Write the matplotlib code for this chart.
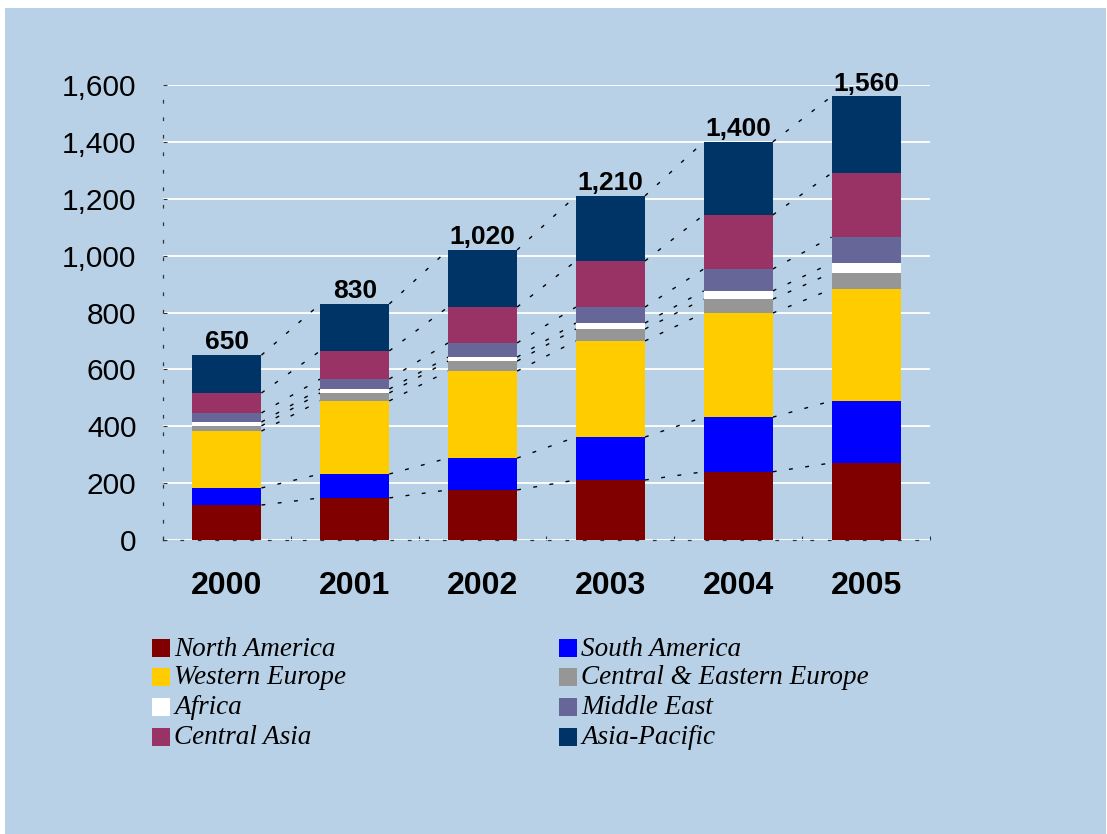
import matplotlib
matplotlib.use("Agg")
import matplotlib.pyplot as plt
import numpy as np
from matplotlib.patches import Rectangle

years = ["2000", "2001", "2002", "2003", "2004", "2005"]
regions = ["North America", "South America", "Western Europe",
           "Central & Eastern Europe", "Africa", "Middle East",
           "Central Asia", "Asia-Pacific"]
north_america = [123, 148, 176, 211, 240, 271]
south_america = [60, 84, 112, 151, 192, 218]
western_europe = [200, 257, 306, 338, 366, 393]
central_eastern_europe = [18, 28, 35, 42, 49, 57]
africa = [14, 14, 14, 21, 29, 35]
middle_east = [32, 35, 50, 56, 77, 91]
central_asia = [70, 99, 126, 162, 190, 225]
asia_pacific = [133, 165, 201, 229, 257, 270]
totals = [650, 830, 1020, 1210, 1400, 1560]
y_ticks = [0, 200, 400, 600, 800, 1000, 1200, 1400, 1600]

series = [north_america, south_america, western_europe, central_eastern_europe,
          africa, middle_east, central_asia, asia_pacific]
colors = ["#800000", "#0000FF", "#FFCC00", "#969696",
          "#FFFFFF", "#666699", "#993366", "#003366"]

BG = "#B9D1E7"
W, H = 1107, 834
fig = plt.figure(figsize=(W / 100, H / 100), dpi=100, facecolor="white")
fig.add_artist(Rectangle((5 / W, 0), (W - 6) / W, (H - 8) / H,
                         transform=fig.transFigure, facecolor=BG,
                         edgecolor="none", zorder=-10))

ax = fig.add_axes([163 / W, 294 / H, 767 / W, 455 / H])
ax.set_facecolor("none")

x = np.arange(len(years))
bar_w = 0.54
bottom = np.zeros(len(years))
cum_levels = []
for vals, col in zip(series, colors):
    vals = np.array(vals, dtype=float)
    ax.bar(x, vals, bar_w, bottom=bottom, color=col, edgecolor="none",
           zorder=3)
    bottom = bottom + vals
    cum_levels.append(bottom.copy())

# series lines joining each stacked boundary between neighbouring columns
for lvl in cum_levels:
    for i in range(len(years) - 1):
        ax.plot([x[i] + bar_w / 2, x[i + 1] - bar_w / 2], [lvl[i], lvl[i + 1]],
                color="#000000", lw=1.0, linestyle=(0, (2.8, 9.0)), zorder=2)

for i, t in enumerate(totals):
    ax.annotate(f"{t:,}", (x[i], t), xytext=(0, 0.5),
                textcoords="offset points", ha="center", va="bottom",
                fontsize=19, fontweight="bold", family="Liberation Sans",
                color="black", zorder=5)

ax.set_xlim(-0.5, len(years) - 0.5)
ax.set_ylim(0, 1600)
ax.set_yticks(y_ticks)
ax.set_yticklabels([f"{v:,}" for v in y_ticks], fontsize=21.5,
                   family="Liberation Sans")
ax.yaxis.grid(True, color="white", lw=1.3, zorder=0)
ax.set_axisbelow(True)

ax.set_xticks(x)
ax.set_xticklabels(years, fontsize=23, fontweight="bold",
                   family="Liberation Sans")
ax.tick_params(axis="x", which="major", length=0, pad=22)
ax.set_xticks(np.arange(-0.5, len(years)), minor=True)
ax.tick_params(axis="x", which="minor", length=3, width=0.8,
               direction="in", color="#333333")
ax.tick_params(axis="y", length=3, width=0.8, direction="in",
               color="#333333", pad=19)

for s in ["top", "right"]:
    ax.spines[s].set_visible(False)
for s in ["left", "bottom"]:
    ax.spines[s].set_linestyle((0, (2, 12)))
    ax.spines[s].set_color("#333333")
    ax.spines[s].set_linewidth(0.9)

# legend laid out in two columns, row by row
col_x = [152, 559]
row_y = [648, 677, 707, 737]
sq = 18
for k, (name, col) in enumerate(zip(regions, colors)):
    r, c = divmod(k, 2)
    cx, cy = col_x[c], row_y[r]
    fig.add_artist(Rectangle((cx / W, (H - cy - sq / 2) / H), sq / W, sq / H,
                             transform=fig.transFigure, facecolor=col,
                             edgecolor="none"))
    fig.text((cx + sq + 4) / W, (H - cy - 1) / H, name, fontsize=19.5,
             style="italic", family="Liberation Serif", va="center",
             ha="left", color="black")

fig.savefig("out.png", dpi=100, facecolor=fig.get_facecolor())
